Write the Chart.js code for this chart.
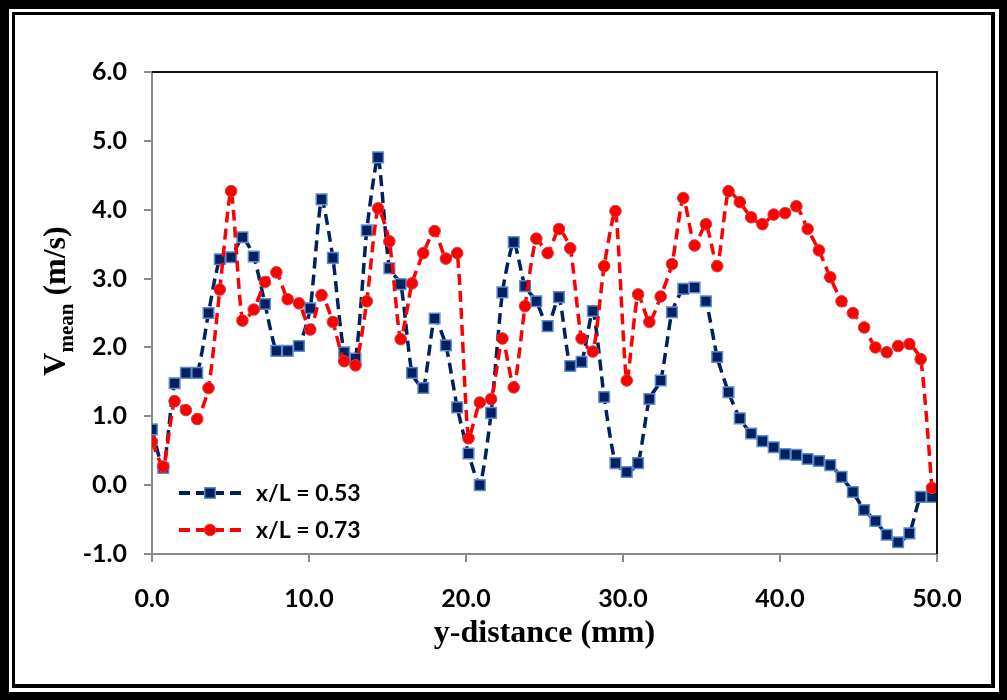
<!DOCTYPE html>
<html>
<head>
<meta charset="utf-8">
<script src="https://cdn.jsdelivr.net/npm/chart.js@4.4.1/dist/chart.umd.min.js"></script>
<style>
  html, body { margin: 0; padding: 0; background: #fff; }
  #frame {
    position: absolute; left: 0; top: 0; width: 1007px; height: 700px;
    box-sizing: border-box; border-style: solid; border-color: #000;
    border-width: 9px 8px 8px 9px;
  }
  #inner {
    position: absolute; left: 3px; top: 3px; right: 4px; bottom: 4px;
    border-style: solid; border-color: #000; border-width: 3px 4px 4px 3px;
  }
  #chart { position: absolute; left: 0; top: 0; }
</style>
</head>
<body>
<div id="frame"><div id="inner"></div></div>
<canvas id="chart" width="1007" height="700"></canvas>
<script>
// y-distance (mm) of each measuring point
const yDistance = [
  0.00, 0.72, 1.44, 2.16, 2.88, 3.60, 4.32, 5.04, 5.76, 6.48,
  7.20, 7.92, 8.64, 9.36, 10.08, 10.80, 11.52, 12.24, 12.96, 13.68,
  14.40, 15.12, 15.84, 16.56, 17.28, 18.00, 18.72, 19.44, 20.16, 20.88,
  21.60, 22.32, 23.04, 23.76, 24.48, 25.20, 25.92, 26.64, 27.36, 28.08,
  28.80, 29.52, 30.24, 30.96, 31.68, 32.40, 33.12, 33.84, 34.56, 35.28,
  36.00, 36.72, 37.44, 38.16, 38.88, 39.60, 40.32, 41.04, 41.76, 42.48,
  43.20, 43.92, 44.64, 45.36, 46.08, 46.80, 47.52, 48.24, 48.96, 49.68
];

// V mean (m/s) at x/L = 0.53
const vMean053 = [
  0.81, 0.25, 1.48, 1.63, 1.63, 2.50, 3.28, 3.31, 3.60, 3.32,
  2.63, 1.95, 1.95, 2.02, 2.57, 4.15, 3.30, 1.93, 1.84, 3.70,
  4.76, 3.15, 2.92, 1.63, 1.41, 2.42, 2.03, 1.13, 0.46, 0.00,
  1.05, 2.80, 3.53, 2.89, 2.67, 2.31, 2.73, 1.73, 1.79, 2.53,
  1.28, 0.32, 0.19, 0.32, 1.25, 1.52, 2.51, 2.85, 2.87, 2.67,
  1.86, 1.35, 0.97, 0.75, 0.64, 0.55, 0.45, 0.44, 0.38, 0.35,
  0.29, 0.12, -0.10, -0.36, -0.52, -0.72, -0.83, -0.70, -0.17, -0.17
];

// V mean (m/s) at x/L = 0.73
const vMean073 = [
  0.63, 0.27, 1.22, 1.09, 0.96, 1.41, 2.84, 4.27, 2.39, 2.55,
  2.95, 3.09, 2.70, 2.64, 2.26, 2.76, 2.37, 1.80, 1.74, 2.67,
  4.02, 3.54, 2.12, 2.93, 3.37, 3.69, 3.29, 3.37, 0.68, 1.20,
  1.25, 2.13, 1.42, 2.60, 3.58, 3.37, 3.72, 3.44, 2.13, 1.94,
  3.18, 3.98, 1.52, 2.77, 2.37, 2.74, 3.21, 4.17, 3.48, 3.79,
  3.18, 4.27, 4.11, 3.89, 3.79, 3.93, 3.95, 4.05, 3.72, 3.41,
  3.02, 2.67, 2.50, 2.29, 2.00, 1.93, 2.02, 2.05, 1.83, -0.04
];

const seriesLabels = ["x/L = 0.53", "x/L = 0.73"];
const xTitle = "y-distance (mm)";

const tickFont = { family: "Lato, 'Open Sans', sans-serif", size: 25, weight: "bold" };
const serif = "'Liberation Serif', 'Times New Roman', serif";
const axisGrey = "#8a8a8a";

const toPoints = (vals) => vals.map((v, i) => ({ x: yDistance[i], y: v }));

const blueStyle = {
  borderColor: "#002060", pointStyle: "rect", pointRadius: 7.5,
  pointBackgroundColor: "#002060", pointBorderColor: "#5b8bd0", pointBorderWidth: 1.5
};
const redStyle = {
  borderColor: "#ff0000", pointStyle: "circle", pointRadius: 5.8,
  pointBackgroundColor: "#ff0000", pointBorderColor: "#d04040", pointBorderWidth: 1
};

/* plot border on top and right side */
const frameLines = {
  id: "frameLines",
  afterDatasetsDraw(chart) {
    const { ctx, chartArea: a } = chart;
    ctx.save();
    ctx.strokeStyle = "#111";
    ctx.lineWidth = 2;
    ctx.beginPath();
    ctx.moveTo(a.left, a.top);
    ctx.lineTo(a.right, a.top);
    ctx.lineTo(a.right, a.bottom);
    ctx.stroke();
    ctx.restore();
  }
};

/* axis titles (y one has a subscript) */
const axisTitles = {
  id: "axisTitles",
  afterDraw(chart) {
    const { ctx, chartArea: a } = chart;
    const big = "bold 32px " + serif;
    const small = "bold 21px " + serif;
    ctx.save();
    ctx.fillStyle = "#000";

    ctx.font = big;
    ctx.textAlign = "center";
    ctx.textBaseline = "middle";
    ctx.fillText(xTitle, (a.left + a.right) / 2, a.bottom + 80);

    ctx.textAlign = "left";
    ctx.textBaseline = "alphabetic";
    const wV = ctx.measureText("V").width;
    const wRest = ctx.measureText(" (m/s)").width;
    ctx.font = small;
    const wSub = ctx.measureText("mean").width;
    const total = wV + wSub + wRest;
    ctx.translate(65, (a.top + a.bottom) / 2 - 12);
    ctx.rotate(-Math.PI / 2);
    let x = -total / 2;
    ctx.font = big;
    ctx.fillText("V", x, 0);
    x += wV;
    ctx.font = small;
    ctx.fillText("mean", x, 8);
    x += wSub;
    ctx.font = big;
    ctx.fillText(" (m/s)", x, 0);
    ctx.restore();
  }
};

/* legend drawn inside plot, bottom left */
const innerLegend = {
  id: "innerLegend",
  afterDraw(chart) {
    const { ctx, chartArea: a } = chart;
    const rows = [
      { style: blueStyle, y: a.bottom - 61 },
      { style: redStyle, y: a.bottom - 24 }
    ];
    ctx.save();
    rows.forEach((r, i) => {
      const x0 = a.left + 27, x1 = a.left + 93;
      ctx.strokeStyle = r.style.borderColor;
      ctx.lineWidth = 4;
      ctx.setLineDash([11, 6]);
      ctx.beginPath();
      ctx.moveTo(x0, r.y);
      ctx.lineTo(x1, r.y);
      ctx.stroke();
      ctx.setLineDash([]);
      ctx.fillStyle = r.style.pointBackgroundColor;
      ctx.strokeStyle = r.style.pointBorderColor;
      ctx.lineWidth = r.style.pointBorderWidth;
      Chart.helpers.drawPoint(ctx, {
        pointStyle: r.style.pointStyle,
        radius: r.style.pointRadius,
        rotation: 0,
        borderWidth: r.style.pointBorderWidth
      }, (x0 + x1) / 2 - 2, r.y);
      ctx.font = "bold 23px Lato, 'Open Sans', sans-serif";
      ctx.fillStyle = "#000";
      ctx.textBaseline = "middle";
      ctx.fillText(seriesLabels[i], a.left + 104, r.y + 1);
    });
    ctx.restore();
  }
};

const ctx = document.getElementById("chart");
new Chart(ctx, {
  type: "line",
  data: {
    datasets: [
      Object.assign({ label: seriesLabels[0], data: toPoints(vMean053), order: 2 }, blueStyle),
      Object.assign({ label: seriesLabels[1], data: toPoints(vMean073), order: 1 }, redStyle)
    ]
  },
  options: {
    responsive: false,
    animation: false,
    layout: { padding: { left: 0, top: 72, right: 70, bottom: 0 } },
    elements: {
      line: { borderWidth: 3.5, borderDash: [11, 6], tension: 0.2, fill: false }
    },
    plugins: {
      legend: { display: false },
      tooltip: { enabled: false }
    },
    scales: {
      x: {
        type: "linear",
        min: 0, max: 50,
        afterFit: (s) => { s.height = 146; },
        ticks: {
          stepSize: 10, padding: 22, color: "#000", font: tickFont,
          callback: (v) => v.toFixed(1)
        },
        grid: { drawOnChartArea: false, drawTicks: true, tickLength: 8, color: axisGrey, lineWidth: 2 },
        border: { color: axisGrey, width: 2 }
      },
      y: {
        min: -1, max: 6,
        afterFit: (s) => { s.width = 152; },
        ticks: {
          stepSize: 1, padding: 17, color: "#000", font: tickFont,
          callback: (v) => v.toFixed(1)
        },
        grid: { drawOnChartArea: false, drawTicks: true, tickLength: 8, color: axisGrey, lineWidth: 2 },
        border: { color: axisGrey, width: 2 }
      }
    }
  },
  plugins: [frameLines, axisTitles, innerLegend]
});
</script>
</body>
</html>
